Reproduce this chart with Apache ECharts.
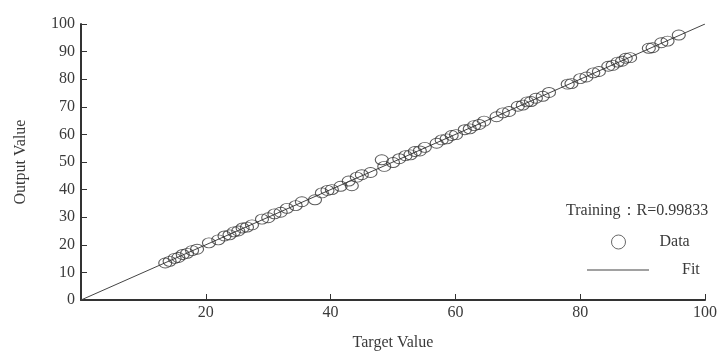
<!DOCTYPE html>
<html>
<head>
<meta charset="utf-8">
<script src="https://cdn.jsdelivr.net/npm/echarts@6/dist/echarts.min.js"></script>
<style>
html,body{margin:0;padding:0;background:#fff;}
#chart{width:721px;height:351px;}
</style>
</head>
<body>
<div id="chart"></div>
<script>
// Training set: network output against target value
const targetValues = [
  13.5, 14.2, 15.0, 15.6, 16.3, 17.0, 17.8, 18.6, 20.5, 22.0,
  23.0, 23.8, 24.5, 25.2, 25.9, 26.6, 27.4, 29.0, 30.0, 31.0,
  32.0, 33.0, 34.4, 35.4, 37.5, 38.6, 39.5, 40.2, 41.6, 42.9,
  43.4, 44.2, 45.0, 46.4, 48.2, 48.6, 50.0, 51.0, 52.0, 52.8,
  53.5, 54.3, 55.1, 57.0, 57.8, 58.6, 59.4, 60.1, 61.5, 62.3,
  63.0, 63.8, 64.6, 66.6, 67.6, 68.6, 70.0, 70.8, 71.5, 72.1,
  72.9, 74.0, 75.0, 78.0, 78.6, 80.0, 81.0, 82.1, 83.0, 84.5,
  85.2, 86.0, 86.7, 87.3, 88.0, 91.0, 91.6, 93.0, 94.0, 95.8
];
const outputValues = [
  13.4, 14.0, 15.1, 15.4, 16.5, 16.9, 17.9, 18.4, 20.7, 21.8,
  23.2, 23.6, 24.7, 25.0, 26.1, 26.4, 27.2, 29.3, 29.8, 31.2,
  31.8, 33.2, 34.2, 35.6, 36.3, 38.8, 39.7, 40.0, 41.2, 43.1,
  41.4, 44.5, 45.4, 46.2, 50.8, 48.4, 49.8, 51.2, 52.3, 52.6,
  53.8, 54.0, 55.3, 56.8, 58.0, 58.4, 59.6, 59.9, 61.7, 62.0,
  63.2, 63.6, 64.8, 66.4, 67.8, 68.3, 70.2, 70.6, 71.8, 71.9,
  73.1, 73.8, 75.2, 78.2, 78.4, 80.2, 80.8, 82.3, 82.8, 84.7,
  85.0, 86.2, 86.5, 87.6, 87.8, 91.2, 91.4, 93.2, 93.8, 96.0
];
const fitX = [0, 100];
const fitY = [0, 100];
const rText = 'Training：R=0.99833';

const serif = '"Liberation Serif", "DejaVu Serif", serif';
const textColor = '#3a3a3a';
const axisColor = '#333';
const fs = 16;

const scatterData = targetValues.map((t, i) => [t, outputValues[i]]);
const fitData = fitX.map((x, i) => [x, fitY[i]]);

const chart = echarts.init(document.getElementById('chart'));
chart.setOption({
  animation: false,
  backgroundColor: '#fff',
  textStyle: { fontFamily: serif },
  title: {
    text: rText,
    left: 566, top: 203, padding: 0,
    textStyle: { fontFamily: serif, fontSize: fs, fontWeight: 'normal', color: textColor }
  },
  legend: [
    {
      data: ['Data'], left: 611, top: 234, orient: 'vertical', padding: 0,
      itemWidth: 14, itemHeight: 14,
      itemStyle: { borderWidth: 1, borderColor: '#444' },
      textStyle: { fontFamily: serif, fontSize: fs, color: textColor, padding: [0, 0, 0, 29] }
    },
    {
      data: [{ name: 'Fit', icon: 'rect' }], left: 587, top: 262, orient: 'vertical', padding: 0,
      itemWidth: 62, itemHeight: 1,
      textStyle: { fontFamily: serif, fontSize: fs, color: textColor, padding: [0, 0, 0, 28] }
    }
  ],
  grid: { left: 81, right: 16, top: 24, bottom: 51, outerBoundsMode: 'none', containLabel: false },
  xAxis: {
    type: 'value', min: 0, max: 100, interval: 20,
    name: 'Target Value', nameLocation: 'middle', nameGap: 35,
    nameTextStyle: { fontFamily: serif, fontSize: fs, color: textColor },
    axisLine: { lineStyle: { color: axisColor, width: 2 } },
    axisTick: { inside: true, length: 6, lineStyle: { color: axisColor } },
    axisLabel: {
      fontFamily: serif, fontSize: fs, color: textColor, margin: 5,
      formatter: v => (v === 0 ? '' : String(v))
    },
    splitLine: { show: false }
  },
  yAxis: {
    type: 'value', min: 0, max: 100, interval: 10,
    name: 'Output Value', nameLocation: 'middle', nameGap: 52,
    nameTextStyle: { fontFamily: serif, fontSize: fs, color: textColor },
    axisLine: { show: true, lineStyle: { color: axisColor, width: 2 } },
    axisTick: { show: true, inside: true, length: 6, lineStyle: { color: axisColor } },
    axisLabel: { fontFamily: serif, fontSize: fs, color: textColor, margin: 6 },
    splitLine: { show: false }
  },
  series: [
    {
      name: 'Data', type: 'scatter', data: scatterData,
      symbol: 'circle', symbolSize: [13, 10],
      itemStyle: { color: 'rgba(255,255,255,0)', borderColor: '#333', borderWidth: 1 },
      z: 3
    },
    {
      name: 'Fit', type: 'line', data: fitData,
      symbol: 'none', color: '#444',
      itemStyle: { color: '#444' },
      lineStyle: { color: '#444', width: 1 },
      z: 2
    }
  ]
});
</script>
</body>
</html>
